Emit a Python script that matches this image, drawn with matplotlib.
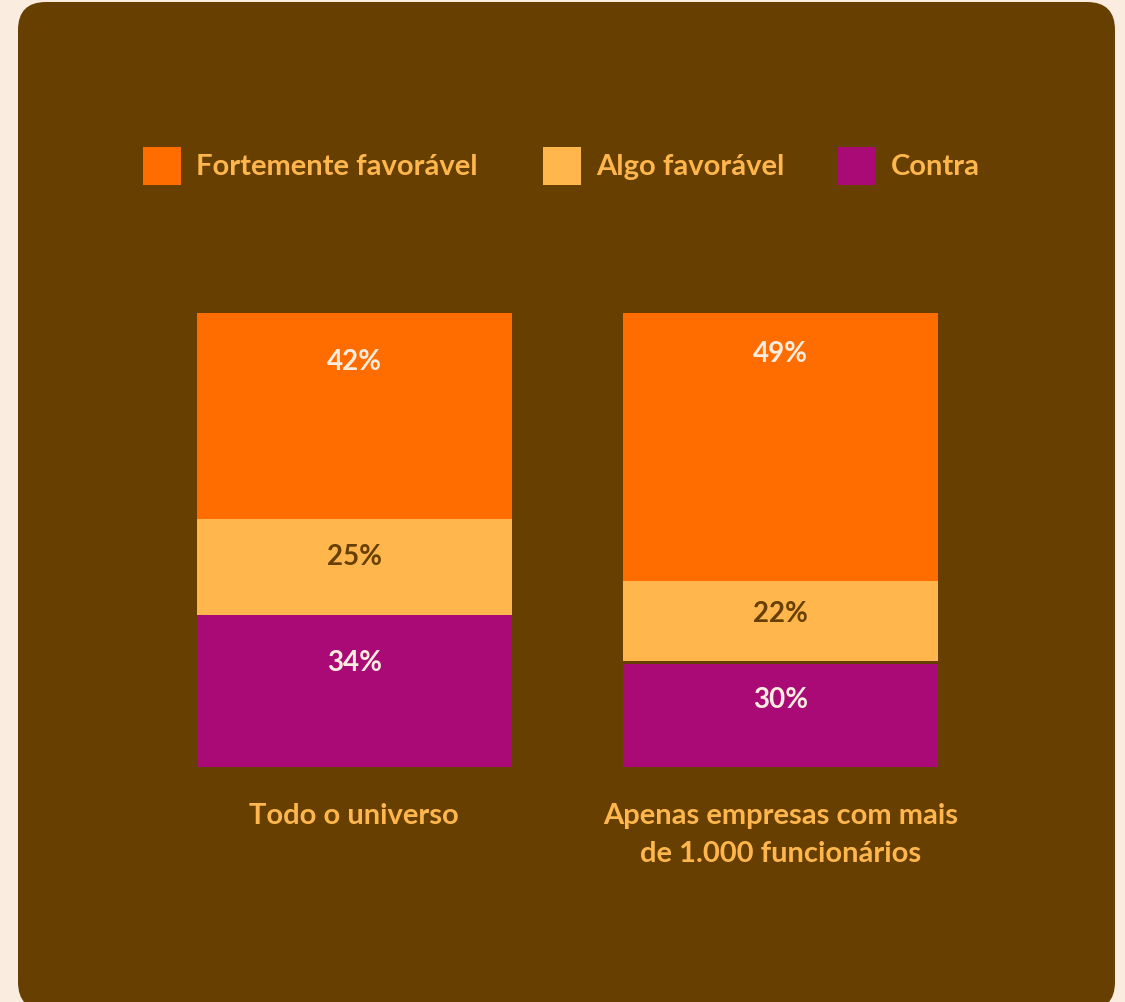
import matplotlib.pyplot as plt
from matplotlib.patches import FancyBboxPatch, Rectangle

plt.rcParams['font.family'] = ['Lato', 'DejaVu Sans']

categories = ['Todo o universo', 'Apenas empresas com mais\nde 1.000 funcionários']
series = ['Fortemente favorável', 'Algo favorável', 'Contra']
# segment heights as drawn (share of bar height, %), bottom to top: Contra, Algo, Fortemente
contra = [33.5, 22.7]
algo = [21.1, 17.6]
forte = [45.4, 59.0]
labels_contra = ['34%', '30%']
labels_algo = ['25%', '22%']
labels_forte = ['42%', '49%']

ORANGE = '#FF6D00'
LIGHT = '#FFB74D'
PURPLE = '#AA0A75'
BROWN = '#673F00'
CREAM = '#FAEDE0'

W, H = 1125, 1003
fig = plt.figure(figsize=(W / 100, H / 100), dpi=100)
fig.patch.set_facecolor(CREAM)

# background panel in pixel coords
bg = fig.add_axes([0, 0, 1, 1])
bg.set_xlim(0, W)
bg.set_ylim(H, 0)
bg.axis('off')
bg.add_patch(FancyBboxPatch((18, 3), 1097, 1008, boxstyle='round,pad=0,rounding_size=28',
                            fc=BROWN, ec='none'))

# legend
legend_x = [143, 543, 838]
for x, name, c in zip(legend_x, series, [ORANGE, LIGHT, PURPLE]):
    bg.add_patch(Rectangle((x, 148), 38, 38, fc=c, ec='none'))
    bg.text(x + 53, 167, name, color=LIGHT, fontsize=21, fontweight='bold',
            va='center', ha='left')

# bars
ax = fig.add_axes([197 / W, (H - 768) / H, (938 - 197) / W, (768 - 314) / H])
ax.set_facecolor('none')
ax.set_xlim(-0.3697, 1.3697)
ax.set_ylim(0, 100)
ax.axis('off')

xs = [0, 1]
gap = [0.0, 0.7]
bw = 0.739
ax.bar(xs, contra, width=bw, color=PURPLE)
algo_bottom = [c + g for c, g in zip(contra, gap)]
ax.bar(xs, algo, width=bw, bottom=algo_bottom, color=LIGHT)
forte_bottom = [b + a for b, a in zip(algo_bottom, algo)]
ax.bar(xs, forte, width=bw, bottom=forte_bottom, color=ORANGE)

# label positions (data units)
y_forte = [89.4, 91.2]
y_algo = [46.5, 33.9]
y_contra = [23.1, 15.0]
for i in range(2):
    ax.text(xs[i], y_forte[i], labels_forte[i], color=CREAM, fontsize=20, fontweight='bold',
            ha='center', va='center')
    ax.text(xs[i], y_algo[i], labels_algo[i], color=BROWN, fontsize=20, fontweight='bold',
            ha='center', va='center')
    ax.text(xs[i], y_contra[i], labels_contra[i], color=CREAM, fontsize=20, fontweight='bold',
            ha='center', va='center')

# category labels
cat_x = [354, 781]
for x, cat in zip(cat_x, categories):
    bg.text(x, 803, cat, color=LIGHT, fontsize=21, fontweight='bold', ha='center', va='top',
            linespacing=1.55)

fig.savefig('out.png', dpi=100, facecolor=CREAM)
